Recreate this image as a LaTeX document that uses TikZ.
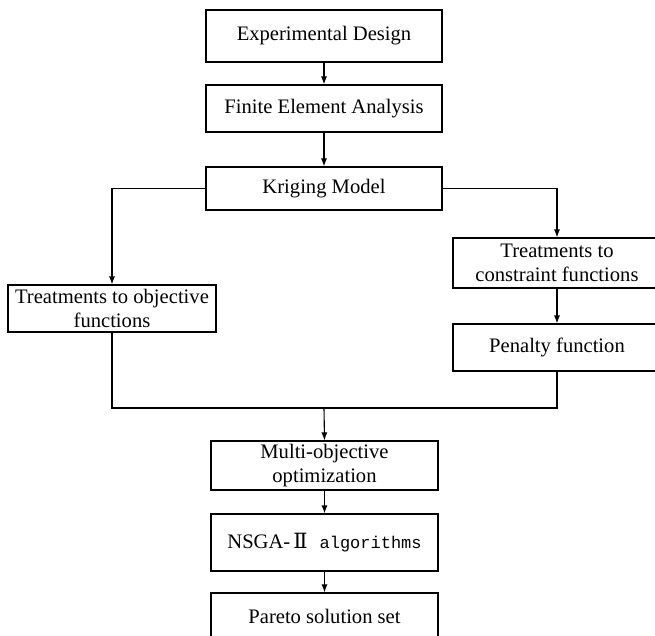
\documentclass[tikz,border=0pt]{standalone}
\usepackage{fontspec}
\setmainfont{Liberation Serif}
\newfontfamily\romfont{DejaVu Serif}
\newfontfamily\monofont{Liberation Mono}
\usetikzlibrary{arrows.meta}
\begin{document}
\begin{tikzpicture}[x=1pt,y=-1pt,
  box/.style={draw, line width=1.1pt, inner sep=0pt, align=center,
    font=\fontsize{20.6}{23.5}\selectfont},
  wide/.style={box, minimum width=236pt},
  mid/.style={box, minimum width=227pt},
  side/.style={box, minimum width=208pt},
  conn/.style={line width=1.1pt},
  arr/.style={conn, -{Latex[length=8pt,width=6pt]}}
]
\useasboundingbox (0,0) rectangle (655,636);
\node[wide, minimum height=52pt] (exp) at (324,36) {Experimental Design};
\node[wide, minimum height=47pt] (fea) at (324,108.5) {Finite Element Analysis};
\node[wide, minimum height=43pt] (krig) at (324,188.5) {Kriging Model};
\node[side, minimum height=47pt] (obj) at (112,308.5) {Treatments to objective\\functions};
\node[side, minimum height=50pt] (con) at (557,263) {Treatments to\\constraint functions};
\node[side, minimum height=47pt] (pen) at (557,347.5) {Penalty function};
\node[mid, minimum height=49pt] (multi) at (324.5,465.5) {Multi-objective\\optimization};
\node[mid, minimum height=57pt] (nsga) at (324.5,542.5) {NSGA-\kern3pt{\romfont\fontsize{21}{20}\selectfont Ⅱ}\kern12pt{\monofont\fontsize{17}{20}\selectfont algorithms}};
\node[mid, minimum height=67pt] (pareto) at (324.5,626.5) {};
\node[font=\fontsize{20.6}{23.5}\selectfont] (paretotext) at (324.5,616) {Pareto solution set};
\coordinate (m) at (324,408);
\draw[arr] (exp) -- (fea);
\draw[arr] (fea) -- (krig);
\draw[arr] (krig.west) -| (obj.north);
\draw[arr] (krig.east) -| (con.north);
\draw[arr] (con) -- (pen);
\draw[conn] (obj.south) |- (m) -| (pen.south);
\draw[arr] (m) -- (multi.north);
\draw[arr] (multi) -- (nsga);
\draw[arr] (nsga) -- (pareto);
\end{tikzpicture}
\end{document}
